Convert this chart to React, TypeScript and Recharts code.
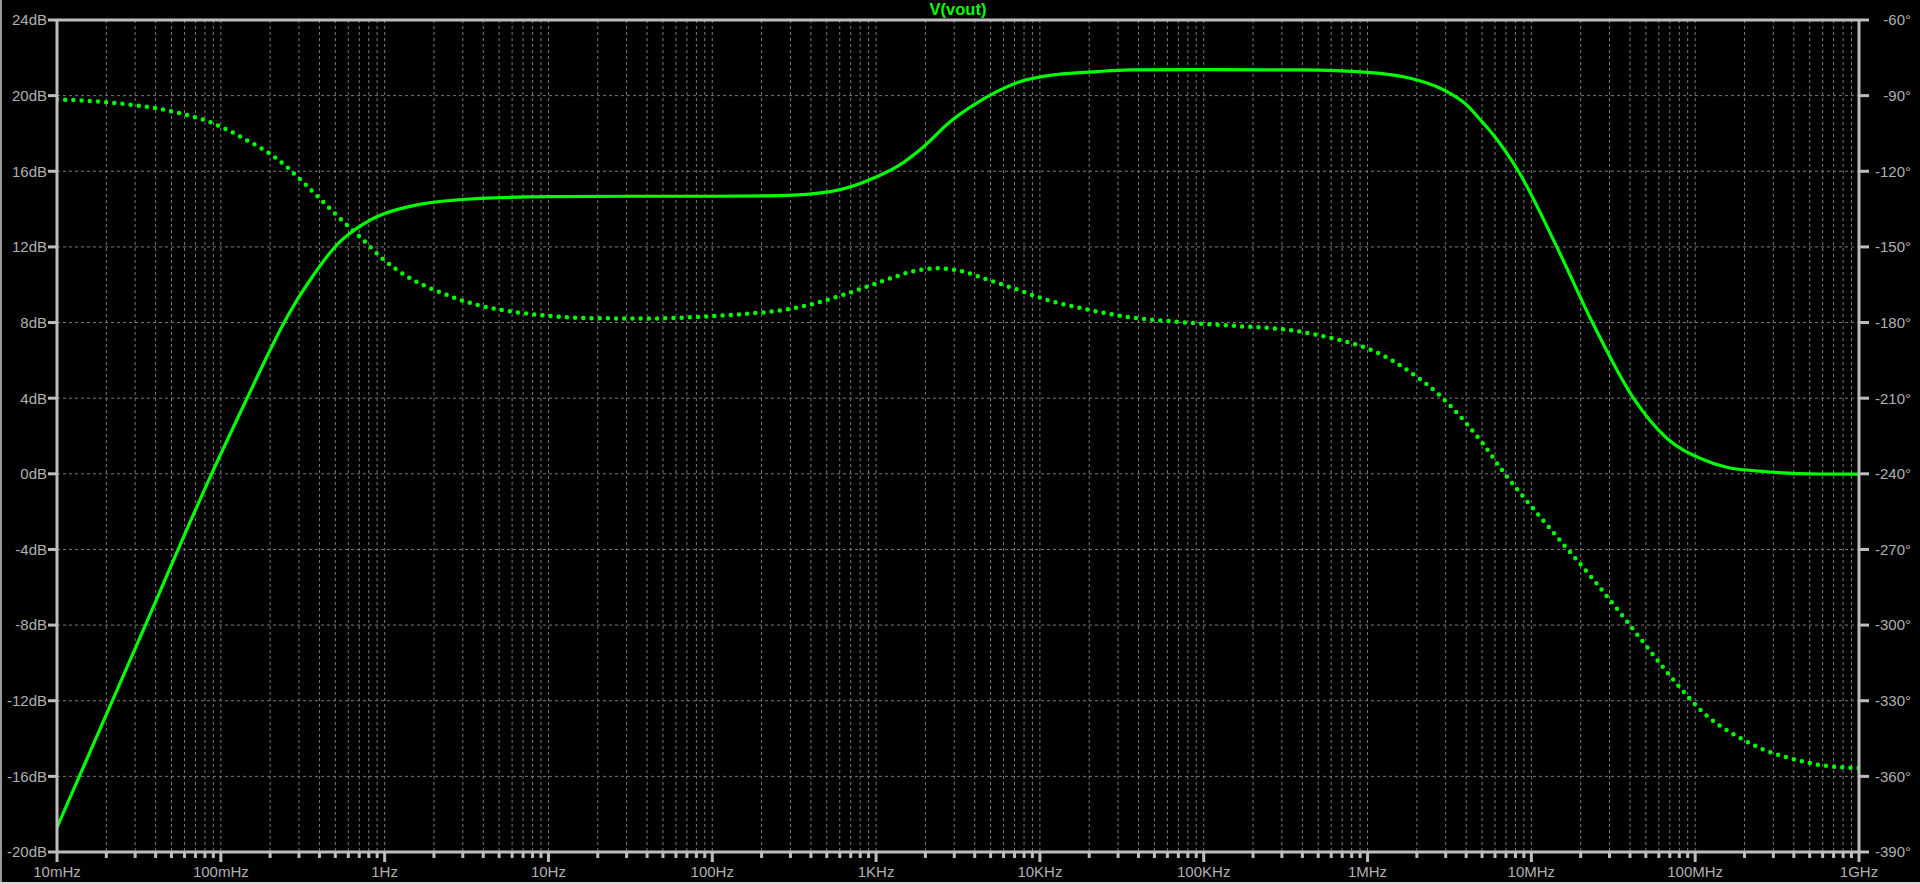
import React from 'react';
import { LineChart, Line, XAxis, YAxis, CartesianGrid, ReferenceLine } from 'recharts';

// magnitude trace (solid), frequency in Hz
const magFreq = [
  0.01, 0.0316, 0.0879, 0.144, 0.19, 0.238, 0.29, 0.351, 0.444, 0.535, 0.676, 0.815, 0.982, 1.57, 3.17, 10.2,
  31.6, 100, 259, 524, 1010, 1340, 1950, 2830, 3930, 5460, 7570, 11000, 22200, 35600, 100000,
  388000, 1e6, 1.82e6, 2.65e6, 3.19e6, 4.04e6, 4.85e6, 5.87e6, 8.34e6, 1.43e7, 2.36e7, 4.2e7,
  6.71e7, 1.07e8, 1.56e8, 2.74e8, 5.79e8, 1e9,
];
const magDb = [
  -18.7, -8.8, 0.0, 3.96, 6.15, 7.85, 9.15, 10.25, 11.48, 12.28, 12.98, 13.42, 13.74, 14.22, 14.52, 14.66,
  14.68, 14.68, 14.71, 14.92, 15.71, 16.24, 17.3, 18.62, 19.5, 20.21, 20.74, 21.05, 21.27, 21.36, 21.38,
  21.36, 21.23, 20.92, 20.47, 20.12, 19.5, 18.75, 17.92, 16.0, 12.0, 8.0, 4.0,
  1.88, 0.82, 0.35, 0.11, -0.01, -0.02,
];

// phase trace (dotted), frequency in Hz
const phaseFreq = [
  0.01, 0.02, 0.0513, 0.09, 0.137, 0.219, 0.319, 0.423, 0.56, 0.741, 0.982, 1.36, 2.18, 3.82, 6.4,
  9.77, 19.2, 39.8, 79.4, 158, 272, 424, 603, 857, 1220, 1690, 2400, 3410, 4740, 6890, 10800,
  19300, 33900, 68500, 152000, 337000, 649000, 991000, 1.37e6, 1.86e6, 2.71e6, 3.85e6, 4.99e6,
  6.92e6, 9.84e6, 1.5e7, 2.34e7, 3.57e7, 5.07e7, 7.74e7, 1.18e8, 1.75e8, 2.67e8, 4.18e8, 5.79e8, 1e9,
];
const phaseDeg = [
  -91.5, -92.6, -96.4, -101, -106.9, -114.9, -124.4, -132.3, -140, -147.3, -154.9, -161.6, -168, -173.3, -175.9,
  -177.3, -178.3, -178.4, -177.8, -176.6, -175, -172.4, -169.4, -166, -162.5, -159.6, -158.5, -159.8, -162.9, -166.4, -170.8,
  -174.8, -177.7, -179.7, -181.3, -183, -186.7, -190.2, -194.5, -200.1, -208.4, -218.7, -227.5,
  -240.2, -252.4, -266.5, -281.2, -296, -308.6, -323.4, -336, -343.6, -349.6, -353.5, -355.5, -356.7,
];

const decadeLabels = ['10mHz', '100mHz', '1Hz', '10Hz', '100Hz', '1KHz', '10KHz', '100KHz', '1MHz', '10MHz', '100MHz', '1GHz'];
const dbTicks = [-20, -16, -12, -8, -4, 0, 4, 8, 12, 16, 20, 24];
const degTicks = [-390, -360, -330, -300, -270, -240, -210, -180, -150, -120, -90, -60];

const magData = magFreq.map((f, i) => ({ f, db: magDb[i] }));
const phaseData = phaseFreq.map((f, i) => ({ f, deg: phaseDeg[i] }));

// every 1..9 step of each decade, for the log grid
const freqTicks: number[] = [];
for (let d = 0; d < decadeLabels.length - 1; d++) {
  const base = 0.01 * Math.pow(10, d);
  for (let k = 1; k <= 9; k++) freqTicks.push(+(k * base).toPrecision(6));
}
freqTicks.push(1e9);

const FRAME = '#bdbdbd';
const LABEL = '#b0b0b0';
const GREEN = '#00ff00';
const FONT = '"Liberation Sans", Arial, sans-serif';

const FreqTick = (props: any) => {
  const { x, y, index } = props;
  const major = index % 9 === 0;
  return (
    <g>
      <line x1={x} y1={y} x2={x} y2={y + (major ? 10 : 6)} stroke={FRAME} strokeWidth={3} />
      {major && (
        <text x={x} y={y + 25} textAnchor="middle" fill={LABEL} fontSize={15} fontFamily={FONT}>
          {decadeLabels[index / 9]}
        </text>
      )}
    </g>
  );
};

const DegTick = (props: any) => {
  const { x, y, payload } = props;
  return (
    <text x={x + 40} y={y} dy={5.4} textAnchor="end" fill={LABEL} fontSize={15} fontFamily={FONT}>
      {`${payload.value}°`}
    </text>
  );
};

export default function App() {
  return (
    <div style={{ position: 'absolute', left: 0, top: 0, width: 1920, height: 884, background: '#000', overflow: 'hidden' }}>
      <div style={{ position: 'absolute', left: 0, top: 0, width: 2, height: 884, background: '#9a9a9a' }} />
      <div style={{ position: 'absolute', left: 0, top: 882, width: 1920, height: 2, background: '#d8d8d8' }} />
      <div
        style={{
          position: 'absolute', left: 0, top: 0, width: 1916, textAlign: 'center',
          color: GREEN, fontFamily: FONT, fontWeight: 'bold', fontSize: 16.5, lineHeight: 'normal',
        }}
      >
        V(vout)
      </div>
      <LineChart width={1920} height={884} margin={{ top: 20, right: 0, bottom: 0, left: 0 }}>
        <CartesianGrid yAxisId="db" stroke="#7a7a7a" strokeDasharray="3 3" />
        <XAxis
          dataKey="f"
          type="number"
          scale="log"
          domain={[0.01, 1e9]}
          ticks={freqTicks}
          interval={0}
          height={32}
          axisLine={{ stroke: FRAME, strokeWidth: 3 }}
          tickLine={false}
          tickSize={0}
          tickMargin={0}
          tick={<FreqTick />}
          allowDataOverflow
        />
        <YAxis
          yAxisId="db"
          orientation="left"
          type="number"
          domain={[-20, 24]}
          ticks={dbTicks}
          interval={0}
          width={57}
          axisLine={{ stroke: FRAME, strokeWidth: 3 }}
          tickLine={{ stroke: FRAME, strokeWidth: 3 }}
          tickSize={9}
          tickMargin={1}
          tick={{ fill: LABEL, fontSize: 15, fontFamily: FONT }}
          tickFormatter={(v: number) => `${v}dB`}
        />
        <YAxis
          yAxisId="ph"
          orientation="right"
          type="number"
          domain={[-390, -60]}
          ticks={degTicks}
          interval={0}
          width={61}
          axisLine={{ stroke: FRAME, strokeWidth: 3 }}
          tickLine={{ stroke: FRAME, strokeWidth: 3 }}
          tickSize={10}
          tickMargin={2}
          tick={<DegTick />}
        />
        <ReferenceLine yAxisId="db" y={24} stroke={FRAME} strokeWidth={3} />
        <Line
          yAxisId="ph"
          data={phaseData}
          dataKey="deg"
          type="monotone"
          stroke={GREEN}
          strokeWidth={4.5}
          strokeDasharray="0 8.2"
          strokeLinecap="round"
          dot={false}
          activeDot={false}
          isAnimationActive={false}
        />
        <Line
          yAxisId="db"
          data={magData}
          dataKey="db"
          type="monotone"
          stroke={GREEN}
          strokeWidth={3.2}
          dot={false}
          activeDot={false}
          isAnimationActive={false}
        />
      </LineChart>
    </div>
  );
}
